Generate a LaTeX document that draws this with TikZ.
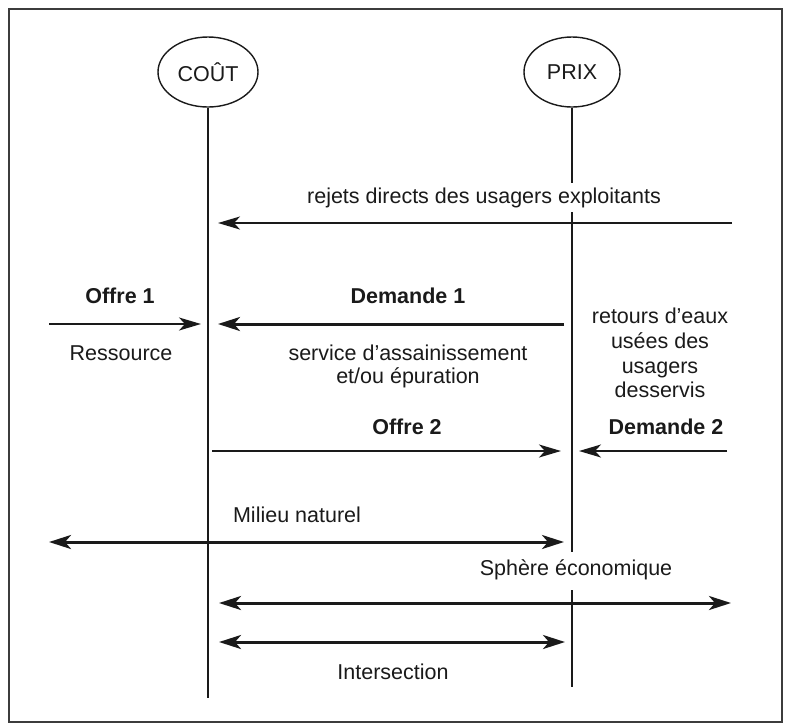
\documentclass[tikz,border=0pt]{standalone}
\usepackage{fontspec}
\setmainfont{Liberation Sans}
\usetikzlibrary{arrows.meta,shapes.geometric}
\definecolor{ink}{HTML}{1A1A1A}
\begin{document}
\begin{tikzpicture}[x=1pt,y=-1pt,
  every node/.style={font=\fontsize{21.5}{25}\selectfont, text=ink, inner sep=0pt},
  bold/.style={font=\fontsize{21.5}{25}\selectfont\bfseries},
  pole/.style={draw=ink, line width=1.4pt, ellipse, minimum width=100pt, minimum height=70pt},
  vline/.style={draw=ink, line width=1.4pt},
  thinarrow/.style={draw=ink, line width=1.9pt, -{Stealth[length=22pt,width=13pt,inset=6pt]}},
  thickarrow/.style={draw=ink, line width=3pt, -{Stealth[length=22pt,width=14pt,inset=6pt]}},
  bothway/.style={draw=ink, line width=3pt, {Stealth[length=22pt,width=14pt,inset=6pt]}-{Stealth[length=22pt,width=14pt,inset=6pt]}},
  frame/.style={draw=ink!85, line width=1.6pt}
]
\useasboundingbox (0,0) rectangle (786,724);
\draw[frame] (9,9) rectangle (782,722);

% poles
\node[pole, minimum width=100pt] (cout) at (208,72) {COÛT};
\node[pole, minimum width=96pt] (prix) at (572,72) {PRIX};

% vertical lines
\coordinate (coutend) at (208,698);
\draw[vline] (cout.south) -- (coutend);
\coordinate (p1) at (572,183);
\coordinate (p2) at (572,212);
\coordinate (p3) at (572,552);
\coordinate (p4) at (572,590);
\coordinate (p5) at (572,687);
\draw[vline] (prix.south) -- (p1);
\draw[vline] (p2) -- (p3);
\draw[vline] (p4) -- (p5);

% rejets directs
\node (rejets) at (484,198) {rejets directs des usagers exploitants};
\coordinate (rA) at (732,223);
\coordinate (rB) at (218,223);
\draw[thinarrow] (rA) -- (rB);

% offre 1
\node[bold] (offre1) at (120,296) {Offre 1};
\coordinate (o1A) at (49,324);
\coordinate (o1B) at (201,324);
\draw[thinarrow] (o1A) -- (o1B);
\node (ressource) at (121,353) {Ressource};

% demande 1
\node[bold] (dem1) at (408,296) {Demande 1};
\coordinate (d1A) at (564,324);
\coordinate (d1B) at (218,324);
\draw[thickarrow] (d1A) -- (d1B);
\node (service) at (408,353) {service d’assainissement};
\node (epur) at (408,378) {et/ou épuration};

% retours
\node[align=center, font=\fontsize{21.5}{24.7}\selectfont] (retours) at (660,353)
  {retours d’eaux\\usées des\\usagers\\desservis};

% offre 2 / demande 2
\node[bold] (offre2) at (407,427) {Offre 2};
\node[bold] (dem2) at (666,427) {Demande 2};
\coordinate (o2A) at (212,451);
\coordinate (o2B) at (561,451);
\draw[thinarrow] (o2A) -- (o2B);
\coordinate (d2A) at (727,451);
\coordinate (d2B) at (579,451);
\draw[thinarrow] (d2A) -- (d2B);

% milieu naturel
\node (milieu) at (297,515) {Milieu naturel};
\coordinate (mA) at (49,542);
\coordinate (mB) at (564,542);
\draw[bothway] (mA) -- (mB);

% sphere economique
\node (sphere) at (576,570) {Sphère économique};
\coordinate (sA) at (219,603);
\coordinate (sB) at (731,603);
\draw[bothway] (sA) -- (sB);

% intersection
\coordinate (iA) at (219,642);
\coordinate (iB) at (565,642);
\draw[bothway] (iA) -- (iB);
\node (inter) at (393,672) {Intersection};
\end{tikzpicture}
\end{document}
